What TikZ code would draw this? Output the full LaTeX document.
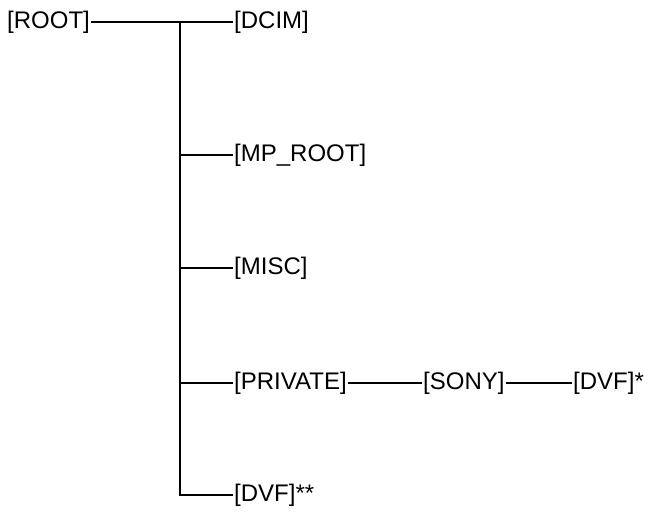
\documentclass[tikz,border=0pt]{standalone}
\usepackage{fontspec}
\setmainfont{Liberation Sans}
\begin{document}
\begin{tikzpicture}[x=1pt,y=-1pt,
  lbl/.style={anchor=west,inner sep=1pt,font=\fontsize{24}{26}\selectfont},
  ln/.style={line width=1.1pt}]
\useasboundingbox (0,0) rectangle (657,515);
\node[lbl] (root) at (6,22) {[ROOT]};
\coordinate (trunk) at (180,22);
\coordinate (bot) at (180,495);
\node[lbl] (dcim) at (233,22) {[DCIM]};
\node[lbl] (mp) at (233,155) {[MP\_ROOT]};
\node[lbl] (misc) at (233,268) {[MISC]};
\node[lbl] (priv) at (233,383) {[PRIVATE]};
\node[lbl] (sony) at (422,383) {[SONY]};
\node[lbl] (dvf1) at (572,383) {[DVF]*};
\node[lbl] (dvf2) at (233,495) {[DVF]**};
\draw[ln] (root.east) -- (dcim.west);
\draw[ln] (trunk) -- (bot) -- (dvf2.west);
\draw[ln] (trunk |- mp.west) -- (mp.west);
\draw[ln] (trunk |- misc.west) -- (misc.west);
\draw[ln] (trunk |- priv.west) -- (priv.west);
\draw[ln] (priv.east) -- (sony.west);
\draw[ln] (sony.east) -- (dvf1.west);
\end{tikzpicture}
\end{document}
